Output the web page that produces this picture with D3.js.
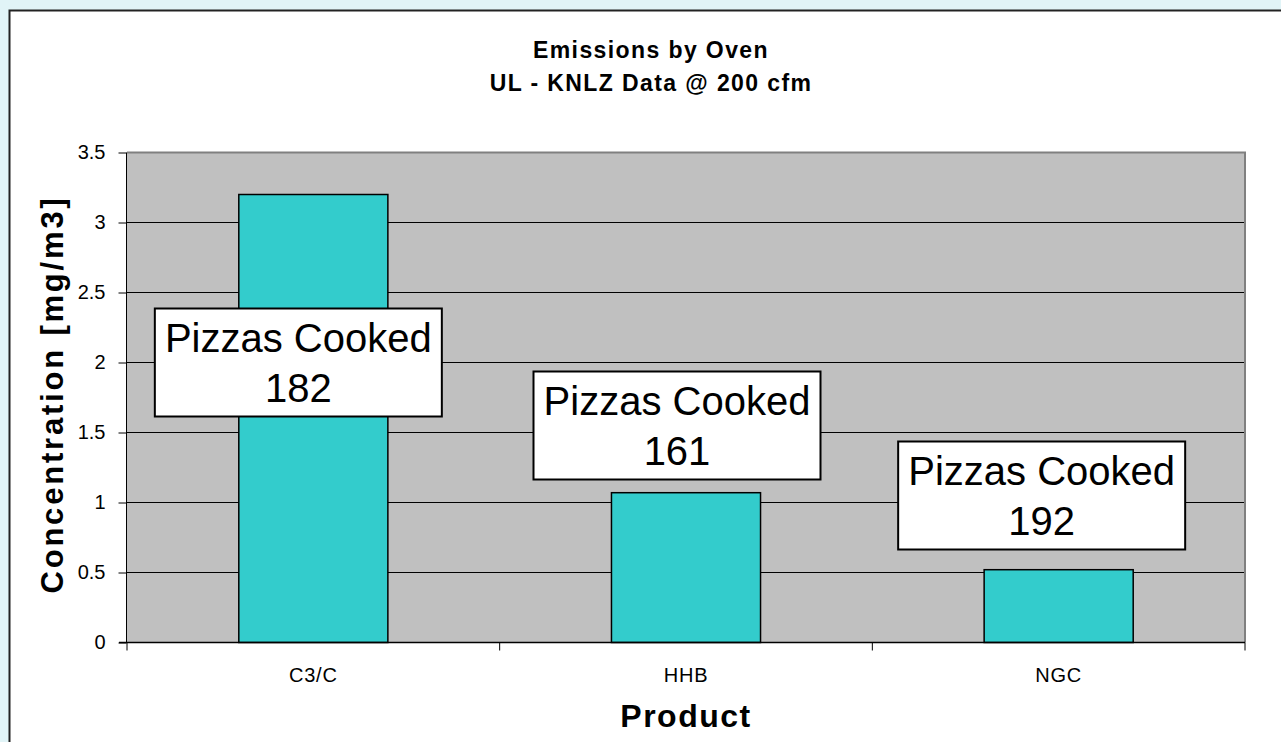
<!DOCTYPE html>
<html lang="en">
<head>
<meta charset="utf-8">
<title>Emissions by Oven</title>
<script src="https://d3js.org/d3.v7.min.js"></script>
<style>
  html, body { margin: 0; padding: 0; background: #e1f4f7; }
  svg { display: block; font-family: Arial, "Liberation Sans", sans-serif; }
</style>
</head>
<body>
<script>
// chart data
var products = ["C3/C", "HHB", "NGC"];
var concentration = [3.2, 1.07, 0.52];
var pizzasCooked = [182, 161, 192];
var yTicks = [0, 0.5, 1, 1.5, 2, 2.5, 3, 3.5];
var titleLines = ["Emissions by Oven", "UL - KNLZ Data @ 200 cfm"];

// where the callout boxes sit (value units / px shift from bar centre)
var calloutAt = [2.0, 1.55, 1.05];
var calloutShift = [-15, -9, -17];

var W = 1281, H = 742;
var plot = {left: 127, right: 1245, top: 152.5, bottom: 642.5};

var svg = d3.select("body").append("svg")
    .attr("width", W)
    .attr("height", H);

// white chart frame
svg.append("rect")
    .attr("x", 9.5).attr("y", 10.5)
    .attr("width", W + 20).attr("height", H + 20)
    .attr("fill", "#fff")
    .attr("stroke", "#222")
    .attr("stroke-width", 2);

var x = d3.scaleBand()
    .domain(products)
    .range([plot.left, plot.right])
    .paddingInner(0.6)
    .paddingOuter(0.3);

var y = d3.scaleLinear()
    .domain([0, 3.5])
    .range([plot.bottom, plot.top]);

// plot background
svg.append("rect")
    .attr("x", plot.left).attr("y", plot.top)
    .attr("width", plot.right - plot.left)
    .attr("height", plot.bottom - plot.top)
    .attr("fill", "#c0c0c0");

// gridlines
svg.append("g")
  .selectAll("line")
  .data(yTicks.filter(d => d > 0 && d < 3.5))
  .join("line")
    .attr("x1", plot.left).attr("x2", plot.right)
    .attr("y1", d => y(d)).attr("y2", d => y(d))
    .attr("stroke", "#000")
    .attr("stroke-width", 1);

// top / right border
svg.append("path")
    .attr("d", `M${plot.left},${plot.top}H${plot.right}V${plot.bottom}`)
    .attr("fill", "none")
    .attr("stroke", "#808080")
    .attr("stroke-width", 2);

// bars
svg.append("g")
  .selectAll("rect")
  .data(products)
  .join("rect")
    .attr("x", d => x(d))
    .attr("y", (d, i) => y(concentration[i]))
    .attr("width", x.bandwidth())
    .attr("height", (d, i) => y(0) - y(concentration[i]))
    .attr("fill", "#33cccc")
    .attr("stroke", "#000")
    .attr("stroke-width", 1.5);

// y axis
var yAxis = d3.axisLeft(y)
    .tickValues(yTicks)
    .tickSize(8)
    .tickPadding(13)
    .tickFormat(d3.format("~g"));

var gy = svg.append("g")
    .attr("transform", `translate(${plot.left - 0.5},0)`)
    .call(yAxis);
gy.select(".domain").attr("stroke", "#000").attr("d", `M0,${plot.top}V${plot.bottom}`);
gy.selectAll(".tick line").attr("stroke", "#000");
gy.selectAll(".tick text")
    .attr("font-size", 20)
    .attr("font-family", "Arial, 'Liberation Sans', sans-serif")
    .attr("fill", "#000");

// x axis: ticks sit between categories
var xEdges = d3.range(products.length + 1)
    .map(i => plot.left + i * (plot.right - plot.left) / products.length);

var gx = svg.append("g");
gx.append("line")
    .attr("x1", plot.left - 8).attr("x2", plot.right)
    .attr("y1", plot.bottom).attr("y2", plot.bottom)
    .attr("stroke", "#000").attr("stroke-width", 1.5);
gx.selectAll("line.tk")
  .data(xEdges)
  .join("line")
    .attr("class", "tk")
    .attr("x1", d => d).attr("x2", d => d)
    .attr("y1", plot.bottom).attr("y2", plot.bottom + 8)
    .attr("stroke", "#000");
gx.selectAll("text")
  .data(products)
  .join("text")
    .attr("x", d => x(d) + x.bandwidth() / 2)
    .attr("y", 682)
    .attr("text-anchor", "middle")
    .attr("font-size", 20)
    .attr("letter-spacing", 0.8)
    .text(d => d);

// callouts
var callouts = svg.append("g")
  .selectAll("g")
  .data(products)
  .join("g")
    .attr("transform", (d, i) =>
      `translate(${x(d) + x.bandwidth() / 2 + calloutShift[i]},${y(calloutAt[i])})`);

callouts.append("rect")
    .attr("x", -143.5).attr("y", -54)
    .attr("width", 287).attr("height", 108)
    .attr("fill", "#fff")
    .attr("stroke", "#000")
    .attr("stroke-width", 2);

callouts.append("text")
    .attr("text-anchor", "middle")
    .attr("font-size", 40)
    .attr("y", -11)
    .text("Pizzas Cooked");

callouts.append("text")
    .attr("text-anchor", "middle")
    .attr("font-size", 40)
    .attr("y", 39)
    .text((d, i) => pizzasCooked[i]);

// title
svg.append("g")
  .selectAll("text")
  .data(titleLines)
  .join("text")
    .attr("x", 651)
    .attr("y", (d, i) => 58 + i * 33)
    .attr("text-anchor", "middle")
    .attr("font-size", 23)
    .attr("font-weight", "bold")
    .attr("letter-spacing", 1.4)
    .text(d => d);

// axis titles
svg.append("text")
    .attr("x", (plot.left + plot.right) / 2)
    .attr("y", 727)
    .attr("text-anchor", "middle")
    .attr("font-size", 32)
    .attr("font-weight", "bold")
    .attr("letter-spacing", 1.5)
    .text("Product");

svg.append("text")
    .attr("transform", `translate(63,${(plot.top + plot.bottom) / 2 - 3}) rotate(-90)`)
    .attr("text-anchor", "middle")
    .attr("font-size", 31)
    .attr("font-weight", "bold")
    .attr("letter-spacing", 2.8)
    .text("Concentration [mg/m3]");
</script>
</body>
</html>
